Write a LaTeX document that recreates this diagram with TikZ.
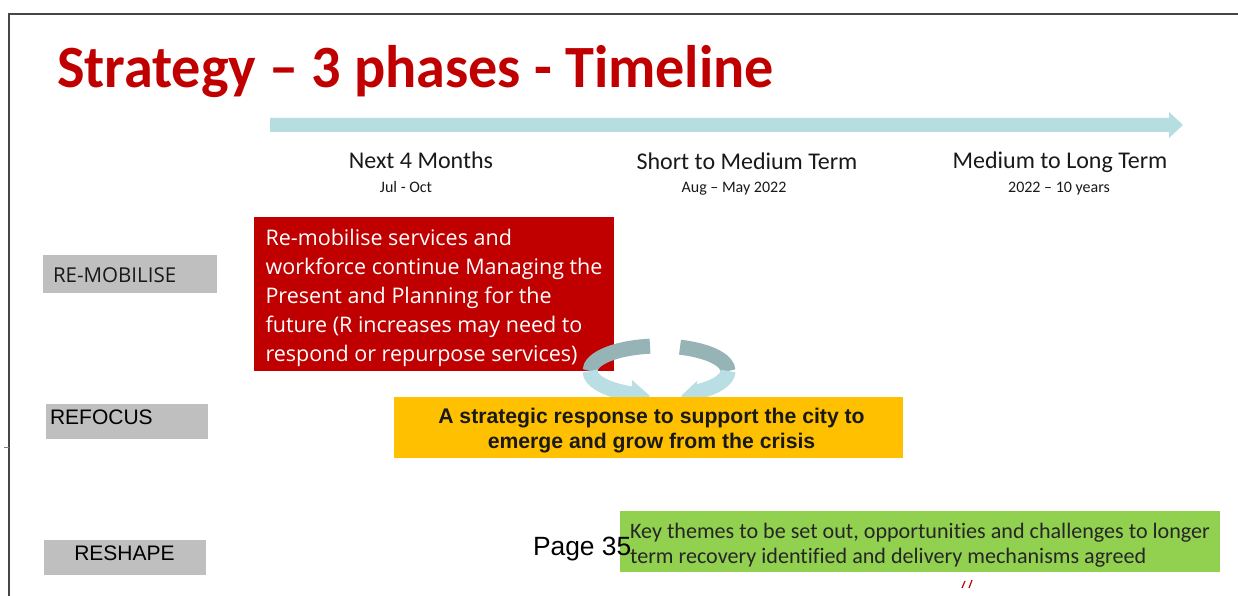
\documentclass[tikz,border=0pt]{standalone}
\usepackage{fontspec}
\setmainfont{Carlito}[Ligatures=CommonOff]
\newfontfamily\arialf{Liberation Sans}
\newfontfamily\segoef{Open Sans}[Ligatures=CommonOff]
\usetikzlibrary{arrows.meta}
\definecolor{pptred}{HTML}{C00000}
\definecolor{pptyellow}{HTML}{FFC000}
\definecolor{pptgreen}{HTML}{92D050}
\definecolor{pptgray}{HTML}{BFBFBF}
\definecolor{tlcyan}{RGB}{182,221,224}
\definecolor{cycdark}{RGB}{150,180,182}
\definecolor{cyclight}{RGB}{185,222,228}
\definecolor{framegray}{RGB}{70,70,70}
\tikzset{
  labelbox/.style={fill=pptgray, draw=none, inner sep=0pt},
  phasebox/.style={draw=none, inner sep=0pt, outer sep=0pt},
  txt/.style={inner sep=0pt, outer sep=0pt},
  head/.style={txt, font=\fontsize{24}{28}\selectfont, text=black!90},
  subhead/.style={txt, font=\fontsize{16}{19}\selectfont, text=black!90},
  cyc/.style={line width=15pt},
}
\begin{document}
\begin{tikzpicture}[x=1pt,y=-1pt]
\useasboundingbox (0,0) rectangle (1238,596);
\fill[white] (0,0) rectangle (1238,596);
% frame
\draw[framegray, line width=2pt] (9,596) -- (9,14) -- (1238,14);
\draw[gray, line width=1pt] (4,447) -- (9,447);
% title
\node[txt, anchor=base west, font=\fontsize{60}{66}\selectfont\bfseries, text=pptred] (title) at (57,88) {\scalebox{0.97}[1]{Strategy – 3 phases - Timeline}};
% timeline arrow
\fill[tlcyan] (270,118) -- (1169,118) -- (1169,112) -- (1183,125) -- (1169,138) -- (1169,132) -- (270,132) -- cycle;
% headers
\node[head, anchor=base] (h1) at (421,168) {Next 4 Months};
\node[subhead, anchor=base] (s1) at (406,192) {Jul - Oct};
\node[head, anchor=base] (h2) at (747,169) {Short to Medium Term};
\node[subhead, anchor=base] (s2) at (734,192) {Aug – May 2022};
\node[head, anchor=base] (h3) at (1060,168) {Medium to Long Term};
\node[subhead, anchor=base] (s3) at (1059,192) {2022 – 10 years};
% left labels
\node[labelbox, minimum width=174, minimum height=38] (remobbox) at (130,274) {};
\node[txt, anchor=base west, font=\segoef\fontsize{20.5}{24}\selectfont, text=black!90] (remob) at (53,282) {RE-MOBILISE};
\node[labelbox, minimum width=162, minimum height=35] (refocbox) at (127,421.5) {};
\node[txt, anchor=base west, font=\arialf\fontsize{21}{24}\selectfont] (refoc) at (50,424) {REFOCUS};
\node[labelbox, minimum width=162, minimum height=35] (reshbox) at (125,557.5) {};
\node[txt, anchor=base, font=\arialf\fontsize{21}{24}\selectfont] (resh) at (124.5,560) {RESHAPE};
% red box
\node[phasebox, fill=pptred, minimum width=360, minimum height=154] (redbox) at (434,294) {};
\node[txt, align=left, text=white, font=\segoef\fontsize{21.5}{29}\selectfont] (redtext) at ([yshift=-3.5pt]redbox.center)
  {Re-mobilise services and\\workforce continue Managing the\\Present and Planning for the\\future (R increases may need to\\respond or repurpose services)};
% cycle arrows
\coordinate (lstart) at (650,346.2);
\coordinate (rstart) at (680,347.2);
\draw[cyc, cycdark] (lstart) arc[start angle=262.5, end angle=180, x radius=69, y radius=25] coordinate (lmid);
\draw[cyc, cyclight] (lmid) arc[start angle=180, end angle=110, x radius=69, y radius=25] coordinate (lend);
\fill[cyclight] (632,380) -- (650,396) -- (632,410) -- cycle;
\draw[cyc, cycdark] (rstart) arc[start angle=287.7, end angle=360, x radius=69, y radius=25] coordinate (rmid);
\draw[cyc, cyclight] (rmid) arc[start angle=0, end angle=60, x radius=69, y radius=25] coordinate (rend);
\fill[cyclight] (697,381) -- (681,396) -- (697,409) -- cycle;
% yellow box
\node[phasebox, fill=pptyellow, minimum width=509, minimum height=61] (yelbox) at (648.5,427.5) {};
\node[txt, align=center, text=black!90, font=\arialf\bfseries\fontsize{21.2}{25}\selectfont] (yeltext) at ([xshift=3pt,yshift=-3.5pt]yelbox.center)
  {A strategic response to support the city to\\emerge and grow from the crisis};
% green box
\node[phasebox, fill=pptgreen, minimum width=600, minimum height=61] (grnbox) at (920,541.5) {};
\node[txt, align=left, text=black!85, font=\fontsize{22.1}{25}\selectfont] (grntext) at ([yshift=-4pt]grnbox.center)
  {Key themes to be set out, opportunities and challenges to longer\\term recovery identified and delivery mechanisms agreed};
% page number
\node[txt, anchor=base west, font=\arialf\fontsize{26.4}{28}\selectfont] (page) at (533,555) {Page 35};
% small red marks
\draw[pptred, line width=1.2pt] (962,588) -- (965,581);
\draw[pptred, line width=1.2pt] (969,588) -- (972,580);
\end{tikzpicture}
\end{document}
